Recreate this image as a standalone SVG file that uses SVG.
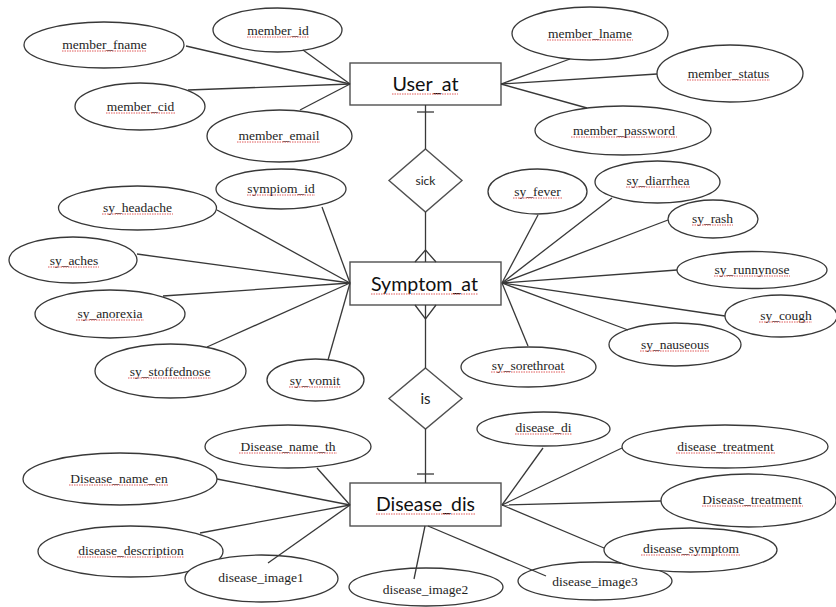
<svg xmlns="http://www.w3.org/2000/svg" width="836" height="607" viewBox="0 0 836 607">
<style>
.bg{fill:#ffffff}
.el{fill:#ffffff;stroke:#383838;stroke-width:1.3}
.box{fill:#ffffff;stroke:#505050;stroke-width:1.4}
.dia{fill:#ffffff;stroke:#505050;stroke-width:1.4}
.ln{stroke:#383838;stroke-width:1.3;fill:none}
.sq{stroke:#e05a5a;stroke-width:1;stroke-dasharray:1.5 1;fill:none}
</style>
<rect class="bg" x="0" y="0" width="836" height="607"/>

<g id="entities" font-family="Lato, 'Open Sans', sans-serif" font-size="20" fill="#111" text-anchor="middle">
<g id="User_at"><rect class="box" x="350" y="63" width="151" height="42"/><text x="425.5" y="91" textLength="66" lengthAdjust="spacingAndGlyphs">User_at</text></g>
<g id="Symptom_at"><rect class="box" x="350" y="262" width="151" height="43"/><text x="424.5" y="290.5" textLength="107" lengthAdjust="spacingAndGlyphs">Symptom_at</text></g>
<g id="Disease_dis"><rect class="box" x="350" y="483" width="151" height="43"/><text x="425.5" y="511" textLength="99" lengthAdjust="spacingAndGlyphs">Disease_dis</text></g>
</g>

<g id="relationships" font-family="Lato, 'Open Sans', sans-serif" fill="#222" text-anchor="middle">
<g id="sick"><polygon class="dia" points="425.5,149 462,180.5 425.5,212 389,180.5"/><text x="425.5" y="185" font-size="12">sick</text></g>
<g id="is"><polygon class="dia" points="425.5,368 462,398.5 425.5,429 389,398.5"/><text x="425.5" y="403.5" font-size="15">is</text></g>
</g>

<g id="attributes" font-family="'Liberation Serif', 'Times New Roman', serif" font-size="13.5" fill="#1e1e1e" text-anchor="middle">
<g id="member_fname"><ellipse class="el" cx="104" cy="45" rx="80" ry="23"/><text x="104.5" y="49">member_fname</text></g>
<g id="member_id"><ellipse class="el" cx="277.5" cy="30" rx="64.5" ry="22"/><text x="278" y="35">member_id</text></g>
<g id="member_cid"><ellipse class="el" cx="140" cy="106.5" rx="65" ry="23.5"/><text x="140.5" y="111">member_cid</text></g>
<g id="member_email"><ellipse class="el" cx="279.5" cy="136" rx="72.5" ry="26"/><text x="279" y="139.5">member_email</text></g>
<g id="member_lname"><ellipse class="el" cx="590" cy="33.5" rx="78" ry="26.5"/><text x="590" y="38">member_lname</text></g>
<g id="member_status"><ellipse class="el" cx="730" cy="73.5" rx="73" ry="28.5"/><text x="728.5" y="78">member_status</text></g>
<g id="member_password"><ellipse class="el" cx="623" cy="130.5" rx="88" ry="24.5"/><text x="624" y="135">member_password</text></g>

<g id="sympiom_id"><ellipse class="el" cx="281" cy="189" rx="65" ry="20"/><text x="281" y="193">sympiom_id</text></g>
<g id="sy_headache"><ellipse class="el" cx="137.5" cy="208" rx="79" ry="22"/><text x="137.5" y="212">sy_headache</text></g>
<g id="sy_aches"><ellipse class="el" cx="73" cy="260" rx="64" ry="23"/><text x="74" y="265">sy_aches</text></g>
<g id="sy_anorexia"><ellipse class="el" cx="110" cy="314" rx="75" ry="24"/><text x="110" y="318">sy_anorexia</text></g>
<g id="sy_stoffednose"><ellipse class="el" cx="170.5" cy="371" rx="75.5" ry="27"/><text x="170" y="376">sy_stoffednose</text></g>
<g id="sy_vomit"><ellipse class="el" cx="315.5" cy="380" rx="48.5" ry="21"/><text x="315" y="385">sy_vomit</text></g>
<g id="sy_fever"><ellipse class="el" cx="537.5" cy="191.5" rx="49.5" ry="22.5"/><text x="537.5" y="196">sy_fever</text></g>
<g id="sy_diarrhea"><ellipse class="el" cx="657.5" cy="182" rx="62.5" ry="21"/><text x="658" y="185">sy_diarrhea</text></g>
<g id="sy_rash"><ellipse class="el" cx="713" cy="219" rx="45" ry="19"/><text x="712.5" y="223">sy_rash</text></g>
<g id="sy_runnynose"><ellipse class="el" cx="752" cy="270" rx="75" ry="18.5"/><text x="752" y="274">sy_runnynose</text></g>
<g id="sy_cough"><ellipse class="el" cx="781" cy="316" rx="56" ry="21"/><text x="786" y="320">sy_cough</text></g>
<g id="sy_nauseous"><ellipse class="el" cx="675" cy="344.5" rx="66" ry="21.5"/><text x="675" y="349">sy_nauseous</text></g>
<g id="sy_sorethroat"><ellipse class="el" cx="528.5" cy="367" rx="67.5" ry="20"/><text x="528" y="370">sy_sorethroat</text></g>

<g id="Disease_name_th"><ellipse class="el" cx="288" cy="446.5" rx="83" ry="21.5"/><text x="288" y="451">Disease_name_th</text></g>
<g id="Disease_name_en"><ellipse class="el" cx="120" cy="479" rx="97" ry="26"/><text x="119" y="483">Disease_name_en</text></g>
<g id="disease_description"><ellipse class="el" cx="130.5" cy="551.5" rx="92.5" ry="25.5"/><text x="131" y="555">disease_description</text></g>
<g id="disease_image1"><ellipse class="el" cx="261.5" cy="578.5" rx="76.5" ry="23.5"/><text x="261" y="581.5">disease_image1</text></g>
<g id="disease_image2"><ellipse class="el" cx="426" cy="587" rx="77" ry="19"/><text x="425.5" y="594">disease_image2</text></g>
<g id="disease_image3"><ellipse class="el" cx="595" cy="581" rx="77" ry="19"/><text x="595" y="585.5">disease_image3</text></g>
<g id="disease_di"><ellipse class="el" cx="543.5" cy="429" rx="66.5" ry="17"/><text x="543.5" y="432">disease_di</text></g>
<g id="disease_treatment"><ellipse class="el" cx="725" cy="446.5" rx="103" ry="21.5"/><text x="725.5" y="451">disease_treatment</text></g>
<g id="Disease_treatment"><ellipse class="el" cx="748.5" cy="500.5" rx="87.5" ry="26.5"/><text x="752" y="504">Disease_treatment</text></g>
<g id="disease_symptom"><ellipse class="el" cx="690.5" cy="550" rx="86.5" ry="22"/><text x="691" y="553">disease_symptom</text></g>
</g>

<g id="connectors" class="ln">
<line x1="186" y1="46" x2="350" y2="84"/>
<line x1="303" y1="50" x2="350" y2="84"/>
<line x1="188" y1="90" x2="350" y2="84"/>
<line x1="300" y1="110" x2="350" y2="84"/>
<line x1="570" y1="59" x2="501" y2="84"/>
<line x1="657" y1="74" x2="501" y2="84"/>
<line x1="587" y1="108" x2="501" y2="84"/>
<line x1="322" y1="207" x2="350" y2="283"/>
<line x1="217" y1="210" x2="350" y2="283"/>
<line x1="137" y1="254" x2="350" y2="283"/>
<line x1="163" y1="296" x2="350" y2="283"/>
<line x1="207" y1="347" x2="350" y2="283"/>
<line x1="328" y1="360" x2="350" y2="283"/>
<line x1="538" y1="215" x2="502" y2="283"/>
<line x1="612" y1="198" x2="502" y2="283"/>
<line x1="668" y1="220" x2="502" y2="283"/>
<line x1="677" y1="270" x2="502" y2="283"/>
<line x1="725" y1="316" x2="502" y2="283"/>
<line x1="628" y1="330" x2="502" y2="283"/>
<line x1="528" y1="346" x2="502" y2="283"/>
<line x1="317" y1="468" x2="350" y2="505"/>
<line x1="217" y1="479" x2="350" y2="505"/>
<line x1="200" y1="533" x2="350" y2="505"/>
<line x1="268" y1="563" x2="350" y2="505"/>
<line x1="425" y1="526" x2="414" y2="579"/>
<line x1="428" y1="526" x2="546" y2="576"/>
<line x1="543" y1="448" x2="502" y2="505"/>
<line x1="622" y1="448" x2="502" y2="505"/>
<line x1="661" y1="501" x2="502" y2="505"/>
<line x1="604" y1="548" x2="502" y2="505"/>
<line x1="425.5" y1="105" x2="425.5" y2="149"/>
<line x1="417" y1="112" x2="434" y2="112"/>
<line x1="425.5" y1="212" x2="425.5" y2="262"/>
<polyline points="415,262 425.5,250 436,262"/>
<line x1="425.5" y1="305" x2="425.5" y2="368"/>
<polyline points="415,305 425.5,319 436,305"/>
<line x1="425.5" y1="429" x2="425.5" y2="483"/>
<line x1="417" y1="474" x2="434" y2="474"/>
</g>

<g id="spellcheck" class="sq">
<line x1="392" y1="94" x2="458" y2="94"/>
<line x1="371" y1="294" x2="478" y2="294"/>
<line x1="376" y1="514" x2="475" y2="514"/>
<line x1="62" y1="51" x2="147" y2="51"/>
<line x1="247" y1="37" x2="309" y2="37"/>
<line x1="106" y1="113" x2="175" y2="113"/>
<line x1="237" y1="142" x2="320" y2="142"/>
<line x1="547" y1="40" x2="633" y2="40"/>
<line x1="687" y1="80" x2="770" y2="80"/>
<line x1="571" y1="137" x2="677" y2="137"/>
<line x1="247" y1="195" x2="315" y2="195"/>
<line x1="102" y1="214" x2="173" y2="214"/>
<line x1="48" y1="267" x2="99" y2="267"/>
<line x1="76" y1="320" x2="144" y2="320"/>
<line x1="128" y1="378" x2="211" y2="378"/>
<line x1="289" y1="387" x2="341" y2="387"/>
<line x1="513" y1="198" x2="562" y2="198"/>
<line x1="626" y1="187" x2="690" y2="187"/>
<line x1="692" y1="225" x2="733" y2="225"/>
<line x1="714" y1="276" x2="790" y2="276"/>
<line x1="759" y1="322" x2="812" y2="322"/>
<line x1="640" y1="351" x2="710" y2="351"/>
<line x1="491" y1="372" x2="565" y2="372"/>
<line x1="239" y1="453" x2="337" y2="453"/>
<line x1="69" y1="485" x2="169" y2="485"/>
<line x1="77" y1="557" x2="184" y2="557"/>
<line x1="515" y1="434" x2="572" y2="434"/>
<line x1="676" y1="453" x2="775" y2="453"/>
<line x1="702" y1="506" x2="803" y2="506"/>
<line x1="641" y1="555" x2="740" y2="555"/>
</g>
</svg>
